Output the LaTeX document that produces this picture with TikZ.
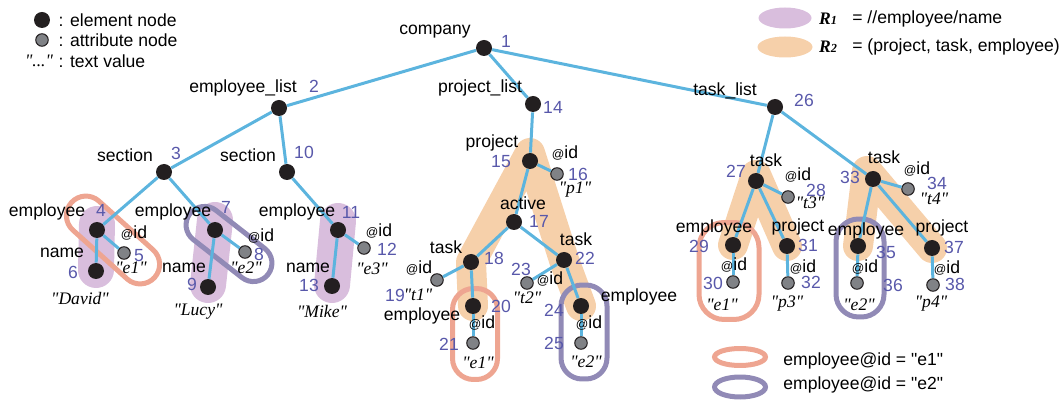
\documentclass[tikz,border=0pt]{standalone}
\usepackage{fontspec}
\setmainfont{Liberation Sans}[Ligatures=TeXOff]
\newfontfamily\valfont{Liberation Serif}[Ligatures=TeXOff]
\usetikzlibrary{positioning,shapes.geometric,calc,backgrounds}
\usepackage{xcolor}

\definecolor{edgeblue}{RGB}{92,180,222}
\definecolor{numblue}{RGB}{88,88,170}
\definecolor{ronecol}{RGB}{217,190,221}
\definecolor{rtwocol}{RGB}{246,208,170}
\definecolor{eonecol}{RGB}{238,165,145}
\definecolor{etwocol}{RGB}{145,138,182}
\definecolor{elemcol}{RGB}{35,31,32}
\definecolor{attrcol}{RGB}{128,130,134}

\begin{document}
\begin{tikzpicture}[
    x=0.02cm, y=-0.02cm,
    elem/.style={circle, fill=elemcol, inner sep=0pt, minimum size=0.32cm},
    attr/.style={circle, draw=elemcol, fill=attrcol, line width=0.6pt,
      inner sep=0pt, minimum size=0.25cm},
    tag/.style={inner sep=0pt, text=black},
    num/.style={inner sep=0pt, text=numblue},
    val/.style={inner sep=0pt, font=\valfont\itshape},
    tedge/.style={draw=edgeblue, line width=0.06cm},
    roneband/.style={draw=ronecol, line width=0.72cm, line cap=round},
    rtwoband/.style={draw=rtwocol, line width=0.6cm, line cap=round,
      line join=round},
    eoneloop/.style={draw=eonecol, line width=0.1cm, inner sep=0pt},
    etwoloop/.style={draw=etwocol, line width=0.1cm, inner sep=0pt}
  ]
    \useasboundingbox (0,0) rectangle (1060,401);

    % Legend (top left)
    \node[elem] (kelem) at (42,20) {};
    \node[attr] (kattr) at (42,40) {};
    \node[val] (kval) at (39,61) {"..."};
    \node[tag, right=0.16cm of kelem] {: element node};
    \node[tag, right=0.19cm of kattr] {: attribute node};
    \node[tag, right=0.1cm of kval] {: text value};

    % Legend (top right)
    \node[ellipse, fill=ronecol, minimum width=1.06cm, minimum height=0.42cm]
      (kone) at (785,18) {};
    \node[ellipse, fill=rtwocol, minimum width=1.1cm, minimum height=0.42cm]
      (ktwo) at (785,47) {};
    \node[inner sep=0pt, font=\valfont\bfseries\itshape] at (828,19)
      {R{\scriptsize 1}};
    \node[inner sep=0pt, font=\valfont\bfseries\itshape] at (828,47)
      {R{\scriptsize 2}};
    \node[tag, anchor=west] at (852,19) {= //employee/name};
    \node[tag, anchor=west] at (852,47) {= (project, task, employee)};

    % Legend (bottom right)
    \node[ellipse, eoneloop, minimum width=1.02cm, minimum height=0.34cm]
      (keone) at (740,357) {};
    \node[ellipse, etwoloop, minimum width=1.02cm, minimum height=0.4cm]
      (ketwo) at (740,387) {};
    \node[tag, anchor=west] at (783,361) {employee@id = "e1"};
    \node[tag, anchor=west] at (783,385) {employee@id = "e2"};

    % Element nodes
    \node[elem] (n1) at (484,48) {};
    \node[elem] (n2) at (279,108) {};
    \node[elem] (n14) at (533,104) {};
    \node[elem] (n26) at (775,107) {};
    \node[elem] (n3) at (164,172) {};
    \node[elem] (n10) at (287,172) {};
    \node[elem] (n4) at (97,230) {};
    \node[elem] (n6) at (96,271) {};
    \node[elem] (n7) at (215,230) {};
    \node[elem] (n9) at (208,287) {};
    \node[elem] (n11) at (338,230) {};
    \node[elem] (n13) at (332,286) {};
    \node[elem] (n15) at (530,161) {};
    \node[elem] (n17) at (514,222) {};
    \node[elem] (n18) at (471,262) {};
    \node[elem] (n20) at (473,306) {};
    \node[elem] (n22) at (564,260) {};
    \node[elem] (n24) at (581,306) {};
    \node[elem] (n27) at (756,181) {};
    \node[elem] (n29) at (733,245) {};
    \node[elem] (n31) at (787,246) {};
    \node[elem] (n33) at (873,179) {};
    \node[elem] (n35) at (858,246) {};
    \node[elem] (n37) at (932,248) {};

    % Attribute nodes
    \node[attr] (n5) at (124,253) {};
    \node[attr] (n8) at (245,252) {};
    \node[attr] (n12) at (364,248) {};
    \node[attr] (n16) at (557,174) {};
    \node[attr] (n19) at (437,280) {};
    \node[attr] (n21) at (473,343) {};
    \node[attr] (n23) at (527,283) {};
    \node[attr] (n25) at (581,343) {};
    \node[attr] (n28) at (788,197) {};
    \node[attr] (n30) at (733,282) {};
    \node[attr] (n32) at (788,283) {};
    \node[attr] (n34) at (908,189) {};
    \node[attr] (n36) at (857,283) {};
    \node[attr] (n38) at (933,285) {};

    % Regions R1 / R2 and the id loops, behind the tree
    \begin{scope}[on background layer]
      \draw[roneband] ($(n4.center)+(0,-6)$) -- ($(n6.center)+(0,-1)$);
      \draw[roneband] ($(n7.center)+(0,-10)$) -- ($(n9.center)+(0,-2)$);
      \draw[roneband] ($(n11.center)+(0,-9)$) -- ($(n13.center)+(0,-1)$);
      \draw[rtwoband] ($(n15.center)+(0,-8)$) -- (n18.center) -- (n20.center)
        ($(n15.center)+(0,-8)$) -- (n22.center) -- (n24.center);
      \draw[rtwoband] ($(n27.center)+(0,-6)$) -- (n29.center)
        ($(n27.center)+(0,-6)$) -- (n31.center);
      \draw[rtwoband] ($(n33.center)+(-6,-8)$) -- (n35.center)
        ($(n33.center)+(-6,-8)$) -- (n37.center);
      \node[eoneloop, minimum width=2.24cm, minimum height=0.78cm,
        rounded corners=0.39cm, rotate=-42] (loopa) at (113,240) {};
      \node[etwoloop, minimum width=1.98cm, minimum height=0.74cm,
        rounded corners=0.37cm, rotate=-38] (loopb) at (229,244) {};
      \node[eoneloop, minimum width=0.9cm, minimum height=1.82cm,
        rounded corners=0.42cm] (loopc) at (475,334) {};
      \node[etwoloop, minimum width=0.92cm, minimum height=1.88cm,
        rounded corners=0.42cm] (loopd) at (584,332) {};
      \node[eoneloop, minimum width=1.2cm, minimum height=1.94cm,
        rounded corners=0.5cm] (loope) at (729,271) {};
      \node[etwoloop, minimum width=0.96cm, minimum height=1.96cm,
        rounded corners=0.45cm] (loopf) at (860,268) {};
    \end{scope}

    % Tree edges
    \draw[tedge] (n1) -- (n2);
    \draw[tedge] (n1) -- (n14);
    \draw[tedge] (n1) -- (n26);
    \draw[tedge] (n2) -- (n3);
    \draw[tedge] (n2) -- (n10);
    \draw[tedge] (n3) -- (n4);
    \draw[tedge] (n3) -- (n7);
    \draw[tedge] (n4) -- (n5);
    \draw[tedge] (n4) -- (n6);
    \draw[tedge] (n7) -- (n8);
    \draw[tedge] (n7) -- (n9);
    \draw[tedge] (n10) -- (n11);
    \draw[tedge] (n11) -- (n12);
    \draw[tedge] (n11) -- (n13);
    \draw[tedge] (n14) -- (n15);
    \draw[tedge] (n15) -- (n16);
    \draw[tedge] (n15) -- (n17);
    \draw[tedge] (n17) -- (n18);
    \draw[tedge] (n17) -- (n22);
    \draw[tedge] (n18) -- (n19);
    \draw[tedge] (n18) -- (n20);
    \draw[tedge] (n20) -- (n21);
    \draw[tedge] (n22) -- (n23);
    \draw[tedge] (n22) -- (n24);
    \draw[tedge] (n24) -- (n25);
    \draw[tedge] (n26) -- (n27);
    \draw[tedge] (n26) -- (n33);
    \draw[tedge] (n27) -- (n28);
    \draw[tedge] (n27) -- (n29);
    \draw[tedge] (n27) -- (n31);
    \draw[tedge] (n29) -- (n30);
    \draw[tedge] (n31) -- (n32);
    \draw[tedge] (n33) -- (n34);
    \draw[tedge] (n33) -- (n35);
    \draw[tedge] (n33) -- (n37);
    \draw[tedge] (n35) -- (n36);
    \draw[tedge] (n37) -- (n38);

    % Tag names
    \node[tag] at (435,32) {company};
    \node[tag] at (243,88) {employee\_list};
    \node[tag] at (480,88) {project\_list};
    \node[tag] at (725,91) {task\_list};
    \node[tag] at (125,155) {section};
    \node[tag] at (248,155) {section};
    \node[tag] at (47,212) {employee};
    \node[tag] at (173,212) {employee};
    \node[tag] at (297,212) {employee};
    \node[tag] at (62,253) {name};
    \node[tag] at (184,268) {name};
    \node[tag] at (308,268) {name};
    \node[tag] at (492,143) {project};
    \node[tag] at (523,203) {active};
    \node[tag] at (446,247) {task};
    \node[tag] at (576,239) {task};
    \node[tag] at (422,316) {employee};
    \node[tag] at (639,297) {employee};
    \node[tag] at (766,160) {task};
    \node[tag] at (884,157) {task};
    \node[tag] at (714,228) {employee};
    \node[tag] at (798,227) {project};
    \node[tag] at (866,231) {employee};
    \node[tag] at (942,228) {project};

    % Attribute names
    \node[tag] at (134,233) {{\scriptsize @}id};
    \node[tag] at (261,236) {{\scriptsize @}id};
    \node[tag] at (379,231) {{\scriptsize @}id};
    \node[tag] at (565,153) {{\scriptsize @}id};
    \node[tag] at (419,268) {{\scriptsize @}id};
    \node[tag] at (482,323) {{\scriptsize @}id};
    \node[tag] at (550,279) {{\scriptsize @}id};
    \node[tag] at (589,323) {{\scriptsize @}id};
    \node[tag] at (798,175) {{\scriptsize @}id};
    \node[tag] at (734,265) {{\scriptsize @}id};
    \node[tag] at (803,267) {{\scriptsize @}id};
    \node[tag] at (917,169) {{\scriptsize @}id};
    \node[tag] at (865,267) {{\scriptsize @}id};
    \node[tag] at (947,268) {{\scriptsize @}id};

    % Node numbers
    \node[num] at (506,41) {1};
    \node[num] at (314,86) {2};
    \node[num] at (176,153) {3};
    \node[num] at (101,210) {4};
    \node[num] at (139,256) {5};
    \node[num] at (73,272) {6};
    \node[num] at (226,207) {7};
    \node[num] at (259,254) {8};
    \node[num] at (192,284) {9};
    \node[num] at (304,152) {10};
    \node[num] at (351,212) {11};
    \node[num] at (387,249) {12};
    \node[num] at (309,285) {13};
    \node[num] at (553,107) {14};
    \node[num] at (501,162) {15};
    \node[num] at (578,174) {16};
    \node[num] at (539,221) {17};
    \node[num] at (494,258) {18};
    \node[num] at (395,295) {19};
    \node[num] at (501,306) {20};
    \node[num] at (449,344) {21};
    \node[num] at (585,258) {22};
    \node[num] at (521,269) {23};
    \node[num] at (554,310) {24};
    \node[num] at (554,343) {25};
    \node[num] at (804,100) {26};
    \node[num] at (736,171) {27};
    \node[num] at (816,190) {28};
    \node[num] at (699,246) {29};
    \node[num] at (713,283) {30};
    \node[num] at (808,245) {31};
    \node[num] at (811,282) {32};
    \node[num] at (850,177) {33};
    \node[num] at (937,183) {34};
    \node[num] at (886,252) {35};
    \node[num] at (893,285) {36};
    \node[num] at (954,247) {37};
    \node[num] at (955,284) {38};

    % Text values
    \node[val] at (80,298) {"David"};
    \node[val] at (131,268) {"e1"};
    \node[val] at (246,268) {"e2"};
    \node[val] at (198,312) {"Lucy"};
    \node[val] at (322,311) {"Mike"};
    \node[val] at (372,269) {"e3"};
    \node[val] at (575,190) {"p1"};
    \node[val] at (418,295) {"t1"};
    \node[val] at (527,298) {"t2"};
    \node[val] at (478,363) {"e1"};
    \node[val] at (586,362) {"e2"};
    \node[val] at (810,203) {"t3"};
    \node[val] at (934,199) {"t4"};
    \node[val] at (722,305) {"e1"};
    \node[val] at (787,304) {"p3"};
    \node[val] at (859,305) {"e2"};
    \node[val] at (931,304) {"p4"};
\end{tikzpicture}
\end{document}
